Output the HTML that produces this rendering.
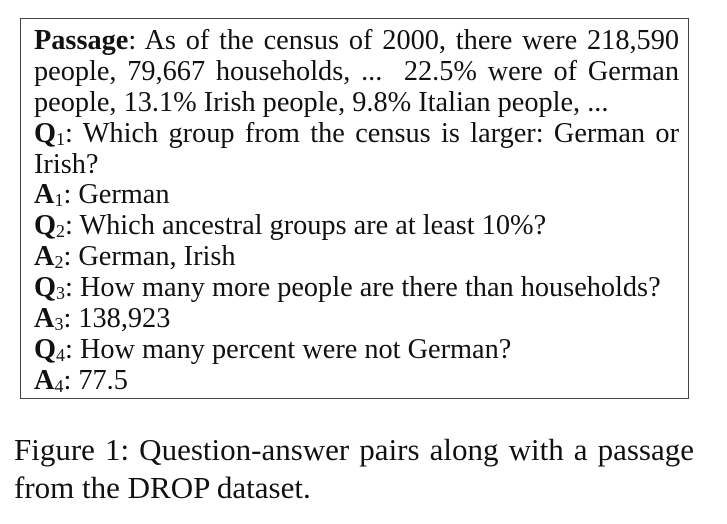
<!DOCTYPE html>
<html><head><meta charset="utf-8"><style>
html,body{margin:0;padding:0;background:#fff;}
body{width:727px;height:524px;position:relative;overflow:hidden;font-family:"Liberation Serif","DejaVu Serif",serif;color:#111;}
#box{position:absolute;left:20px;top:18px;width:669px;height:381px;border:1.5px solid #444;box-sizing:border-box;}
.ln{position:absolute;left:13px;width:645px;font-size:28.3px;line-height:31px;white-space:nowrap;}
.j{text-align:justify;text-align-last:justify;white-space:normal;}
sub{font-size:18px;vertical-align:-3px;font-weight:normal;line-height:0;}
.cap{position:absolute;left:14px;width:680px;font-size:31px;line-height:38px;white-space:nowrap;}
</style></head><body>
<div id="box">
<div class="ln j" style="top:6px"><b>Passage</b>: As of the census of 2000, there were 218,590</div>
<div class="ln j" style="top:37px">people, 79,667 households, ... &nbsp;22.5% were of German</div>
<div class="ln" style="top:68px">people, 13.1% Irish people, 9.8% Italian people, ...</div>
<div class="ln j" style="top:99px"><b>Q</b><sub>1</sub>: Which group from the census is larger: German or</div>
<div class="ln" style="top:130px">Irish?</div>
<div class="ln" style="top:160px"><b>A</b><sub>1</sub>: German</div>
<div class="ln" style="top:191px"><b>Q</b><sub>2</sub>: Which ancestral groups are at least 10%?</div>
<div class="ln" style="top:222px"><b>A</b><sub>2</sub>: German, Irish</div>
<div class="ln" style="top:253px"><b>Q</b><sub>3</sub>: How many more people are there than households?</div>
<div class="ln" style="top:284px"><b>A</b><sub>3</sub>: 138,923</div>
<div class="ln" style="top:315px"><b>Q</b><sub>4</sub>: How many percent were not German?</div>
<div class="ln" style="top:346px"><b>A</b><sub>4</sub>: 77.5</div>
</div>
<div class="cap j" style="top:431px">Figure 1: Question-answer pairs along with a passage</div>
<div class="cap" style="top:469px">from the DROP dataset.</div>
</body></html>
